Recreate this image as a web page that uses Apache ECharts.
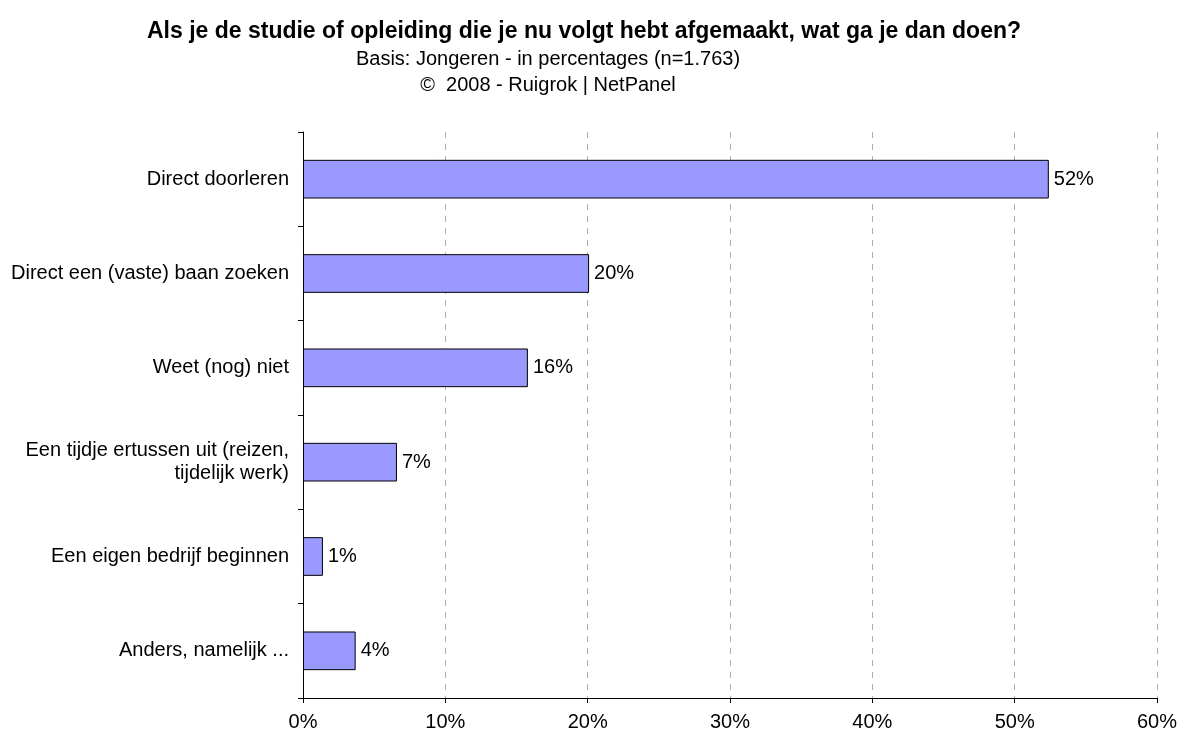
<!DOCTYPE html>
<html>
<head>
<meta charset="utf-8">
<script src="https://cdn.jsdelivr.net/npm/echarts@6/dist/echarts.min.js"></script>
<style>
html,body{margin:0;padding:0;background:#fff;}
#chart{width:1180px;height:735px;}
</style>
</head>
<body>
<div id="chart"></div>
<script>
const titleText = 'Als je de studie of opleiding die je nu volgt hebt afgemaakt, wat ga je dan doen?';
const subtitleText = 'Basis: Jongeren - in percentages (n=1.763)\n©  2008 - Ruigrok | NetPanel';
const categories = [
  'Direct doorleren',
  'Direct een (vaste) baan zoeken',
  'Weet (nog) niet',
  'Een tijdje ertussen uit (reizen,\ntijdelijk werk)',
  'Een eigen bedrijf beginnen',
  'Anders, namelijk ...'
];
const values = [52.4, 20.1, 15.8, 6.6, 1.4, 3.7];
const xTicks = { min: 0, max: 60, interval: 10 };

const chart = echarts.init(document.getElementById('chart'), null, { renderer: 'canvas' });
const FONT = '"Liberation Sans", Arial, sans-serif';
chart.setOption({
  backgroundColor: '#fff',
  animation: false,
  textStyle: { fontFamily: FONT },
  title: [{
    text: titleText,
    left: 579,
    textAlign: 'center',
    top: 14,
    textStyle: { fontFamily: FONT, fontSize: 23, fontWeight: 'bold', color: '#000', lineHeight: 26 }
  }, {
    text: subtitleText,
    left: 543,
    textAlign: 'center',
    top: 42,
    textStyle: { fontFamily: FONT, fontSize: 20, fontWeight: 'normal', color: '#000', lineHeight: 25.5 }
  }],
  grid: { left: 303, right: 23, top: 132, bottom: 37, containLabel: false },
  xAxis: {
    type: 'value',
    min: xTicks.min,
    max: xTicks.max,
    interval: xTicks.interval,
    axisLine: { show: true, lineStyle: { color: '#000', width: 1 } },
    axisTick: { show: true, length: 5, lineStyle: { color: '#000' } },
    axisLabel: { formatter: '{value}%', color: '#000', fontSize: 20, fontFamily: FONT, margin: 14 },
    splitLine: { show: true, lineStyle: { color: '#b0b0b0', type: [6, 6], width: 1 } }
  },
  yAxis: {
    type: 'category',
    data: categories,
    inverse: true,
    axisLine: { show: true, lineStyle: { color: '#000', width: 1 } },
    axisTick: { show: true, length: 5, lineStyle: { color: '#000' } },
    axisLabel: { color: '#000', fontSize: 20, fontFamily: FONT, margin: 14, lineHeight: 23, align: 'right' },
    splitLine: { show: false }
  },
  series: [{
    type: 'bar',
    data: values,
    barCategoryGap: '59%',
    itemStyle: { color: '#9999FF', borderColor: '#000', borderWidth: 1 },
    label: {
      show: true,
      position: 'right',
      distance: 5,
      color: '#000',
      fontSize: 20,
      fontFamily: FONT,
      formatter: p => Math.round(p.value) + '%'
    }
  }]
});
</script>
</body>
</html>
